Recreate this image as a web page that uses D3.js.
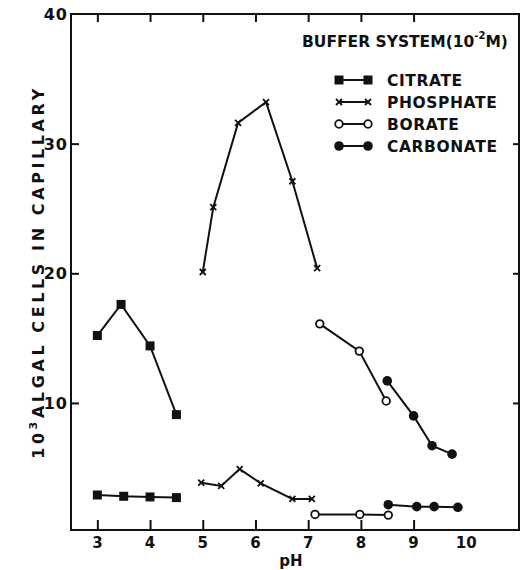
<!DOCTYPE html>
<html><head><meta charset="utf-8">
<script src="https://cdn.jsdelivr.net/npm/d3@7"></script>
<style>body{margin:0;background:#fff}svg{display:block}text{font-family:"DejaVu Sans",sans-serif;font-weight:bold;fill:#111}</style>
</head><body><svg id="c" width="525" height="570"></svg>
<script>
const xTicks = [3, 4, 5, 6, 7, 8, 9];
const xTickLabels = ["3", "4", "5", "6", "7", "8", "9", "10"];
const xLabelValues = [3, 4, 5, 6, 7, 8, 9, 10];
const yTicks = [10, 20, 30, 40];
const yTickLabels = ["10", "20", "30", "40"];

const citrateHighPH = [3, 3.45, 4, 4.5];
const citrateHigh = [15.2, 17.6, 14.4, 9.1];
const citrateLowPH = [3, 3.5, 4, 4.5];
const citrateLow = [2.9, 2.8, 2.75, 2.7];
const phosphateHighPH = [5, 5.2, 5.67, 6.2, 6.7, 7.17];
const phosphateHigh = [20.1, 25.1, 31.6, 33.2, 27.1, 20.4];
const phosphateLowPH = [4.97, 5.35, 5.7, 6.1, 6.7, 7.07];
const phosphateLow = [3.85, 3.6, 4.9, 3.8, 2.6, 2.6];
const borateHighPH = [7.22, 7.97, 8.48];
const borateHigh = [16.1, 14.0, 10.15];
const borateLowPH = [7.13, 7.98, 8.52];
const borateLow = [1.4, 1.4, 1.35];
const carbonateHighPH = [8.5, 9.0, 9.35, 9.73];
const carbonateHigh = [11.7, 9.0, 6.7, 6.05];
const carbonateLowPH = [8.52, 9.06, 9.39, 9.84];
const carbonateLow = [2.15, 2.0, 2.0, 1.95];

const legendNames = ["CITRATE", "PHOSPHATE", "BORATE", "CARBONATE"];
const legendMarkers = ["square", "cross", "open", "dot"];

const svg = d3.select("#c");
const L = 71, R = 519, T = 14, B = 530;
const x = d3.scaleLinear().domain([2.5, 11]).range([L, R]);
const y = d3.scaleLinear().domain([0.2, 40]).range([B, T]);
const ink = "#111";

// frame
svg.append("rect").attr("x", L).attr("y", T).attr("width", R - L).attr("height", B - T)
  .attr("fill", "none").attr("stroke", ink).attr("stroke-width", 2);

// axes with inward ticks
const gx = svg.append("g").attr("transform", `translate(0,${B})`)
  .call(d3.axisTop(x).tickValues(xTicks).tickSize(10).tickFormat(""));
const gxt = svg.append("g").attr("transform", `translate(0,${T})`)
  .call(d3.axisBottom(x).tickValues(xTicks).tickSize(8).tickFormat(""));
const gy = svg.append("g").attr("transform", `translate(${L},0)`)
  .call(d3.axisRight(y).tickValues([10, 20, 30]).tickSize(8).tickFormat(""));
const gyr = svg.append("g").attr("transform", `translate(${R},0)`)
  .call(d3.axisLeft(y).tickValues([10, 20, 30]).tickSize(6).tickFormat(""));
[gx, gxt, gy, gyr].forEach(g => {
  g.select(".domain").remove();
  g.selectAll(".tick line").attr("stroke", ink).attr("stroke-width", 2);
});

// tick labels
svg.append("g").selectAll("text").data(xLabelValues).join("text")
  .attr("x", d => x(d)).attr("y", 548).attr("text-anchor", "middle")
  .attr("font-size", 15).text((d, i) => xTickLabels[i]);
svg.append("g").selectAll("text").data(yTicks).join("text")
  .attr("x", 68).attr("y", d => y(d) + 6).attr("text-anchor", "end")
  .attr("font-size", 16).attr("letter-spacing", 1).text((d, i) => yTickLabels[i]);

// axis titles
svg.append("text").attr("x", 291).attr("y", 566).attr("text-anchor", "middle")
  .attr("font-size", 15).text("pH");
const yt = svg.append("text").attr("transform", "translate(44,272) rotate(-90)")
  .attr("text-anchor", "middle").attr("font-size", 16).attr("letter-spacing", 3.6);
yt.append("tspan").text("10");
yt.append("tspan").attr("font-size", 11).attr("dy", -7).text("3");
yt.append("tspan").attr("dy", 7).text("ALGAL CELLS IN CAPILLARY");

// series drawing
const line = d3.line().x(d => x(d[0])).y(d => y(d[1]));
function series(ph, vals, marker) {
  const pts = ph.map((p, i) => [p, vals[i]]);
  svg.append("path").datum(pts).attr("d", line).attr("fill", "none")
    .attr("stroke", ink).attr("stroke-width", 2);
  drawMarkers(svg.append("g"), pts.map(d => [x(d[0]), y(d[1])]), marker);
}
function drawMarkers(g, pts, marker) {
  pts.forEach(([px, py]) => {
    if (marker === "square") {
      g.append("rect").attr("x", px - 4.5).attr("y", py - 4.5).attr("width", 9).attr("height", 9).attr("fill", ink);
    } else if (marker === "dot") {
      g.append("circle").attr("cx", px).attr("cy", py).attr("r", 4.8).attr("fill", ink);
    } else if (marker === "open") {
      g.append("circle").attr("cx", px).attr("cy", py).attr("r", 3.8).attr("fill", "#fff")
        .attr("stroke", ink).attr("stroke-width", 1.8);
    } else {
      const s = 3;
      g.append("path").attr("d", `M${px - s},${py - s}L${px + s},${py + s}M${px - s},${py + s}L${px + s},${py - s}`)
        .attr("stroke", ink).attr("stroke-width", 1.8).attr("fill", "none");
    }
  });
}
series(citrateHighPH, citrateHigh, "square");
series(citrateLowPH, citrateLow, "square");
series(phosphateHighPH, phosphateHigh, "cross");
series(phosphateLowPH, phosphateLow, "cross");
series(borateHighPH, borateHigh, "open");
series(borateLowPH, borateLow, "open");
series(carbonateHighPH, carbonateHigh, "dot");
series(carbonateLowPH, carbonateLow, "dot");

// legend
const lt = svg.append("text").attr("x", 302).attr("y", 47).attr("font-size", 15.5).attr("letter-spacing", 0);
lt.append("tspan").text("BUFFER SYSTEM(10");
lt.append("tspan").attr("font-size", 10).attr("dy", -8).text("-2");
lt.append("tspan").attr("dy", 8).text("M)");
legendNames.forEach((name, i) => {
  const cy = 80 + i * 22;
  svg.append("line").attr("x1", 339).attr("x2", 368).attr("y1", cy).attr("y2", cy)
    .attr("stroke", ink).attr("stroke-width", 2);
  drawMarkers(svg.append("g"), [[339, cy], [368, cy]], legendMarkers[i]);
  svg.append("text").attr("x", 387).attr("y", cy + 6).attr("font-size", 15.5)
    .attr("letter-spacing", 0.6).text(name);
});
</script></body></html>
